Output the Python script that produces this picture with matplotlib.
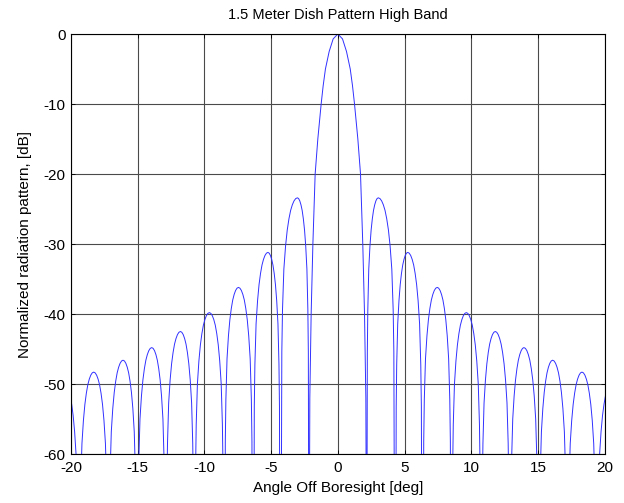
import numpy as np
import matplotlib
matplotlib.use("Agg")
import matplotlib.pyplot as plt

# ---- data (right half; pattern is symmetric) ----
null_deg = [2.14, 4.30, 6.35, 8.52, 10.75, 12.90, 15.05, 17.20, 19.40, 21.60]
peak_deg = [3.03, 5.24, 7.45, 9.63, 11.80, 13.95, 16.10, 18.30, 20.50]
peak_db = [-23.4, -31.2, -36.2, -39.8, -42.5, -44.8, -46.6, -48.3, -49.9]

# main lobe: offset from boresight (deg) vs level (dB)
main_off = [0.0, 0.35, 0.65, 0.93, 1.10, 1.25, 1.50, 1.70, 1.87, 2.00, 2.10, 2.14]
main_db = [0.0, -0.7, -2.5, -5.0, -7.4, -10.0, -15.0, -20.0, -30.0, -40.0, -52.0, -75.0]

# sidelobe shape: fraction of the way null->peak vs dB below peak
lobe_frac = [0.05, 0.08, 0.12, 0.20, 0.30, 0.40, 0.50, 0.60, 0.70, 0.80, 0.90, 1.00]
lobe_drop = [-45.0, -22.0, -16.0, -10.2, -6.9, -4.6, -3.0, -1.8, -1.0, -0.44, -0.11, 0.0]

x_ticks = [-20, -15, -10, -5, 0, 5, 10, 15, 20]
y_ticks = [0, -10, -20, -30, -40, -50, -60]

title = "1.5 Meter Dish Pattern High Band"
xlabel = "Angle Off Boresight [deg]"
ylabel = "Normalized radiation pattern, [dB]"

# ---- build the right-half trace from the read values ----
frac = np.array(lobe_frac)
drop = np.array(lobe_drop)
rx, ry = [], []
rx += list(main_off)
ry += list(main_db)
for i, (pk, lv) in enumerate(zip(peak_deg, peak_db)):
    nl, nr = null_deg[i], null_deg[i + 1]
    lx = nl + frac * (pk - nl)
    rxx = nr - frac[::-1] * (nr - pk)
    rx += list(lx) + list(rxx[1:])
    ry += list(lv + drop) + list(lv + drop[::-1][1:])
rx = np.array(rx)
ry = np.array(ry)
x = np.concatenate([-rx[::-1], rx[1:]])
y = np.concatenate([ry[::-1], ry[1:]])

plt.rcParams['font.family'] = ['Liberation Sans', 'DejaVu Sans']
plt.rcParams['axes.unicode_minus'] = False
fig = plt.figure(figsize=(6.24, 5.03), dpi=100)
ax = fig.add_axes([0.1138, 0.0974, 0.8552, 0.835])
ax.plot(x, y, color='#3030ff', lw=0.7)
ax.set_xlim(-20, 20)
ax.set_ylim(-60, 0)
ax.set_xticks(x_ticks)
ax.set_yticks(y_ticks)
ax.grid(True, color='#4a4a4a', lw=0.8, ls='-')
ax.set_axisbelow(True)
ax.tick_params(direction='in', length=3, width=0.6, labelsize=11, top=True, right=True)
ax.tick_params(axis='x', pad=5)
ax.tick_params(axis='y', pad=4)
for s in ax.spines.values():
    s.set_linewidth(0.8)
    s.set_color('black')
ax.set_title(title, fontsize=10.5, pad=11)
ax.set_xlabel(xlabel, fontsize=11, labelpad=4)
ax.set_ylabel(ylabel, fontsize=11, labelpad=8)
fig.savefig("out.png", dpi=100)
